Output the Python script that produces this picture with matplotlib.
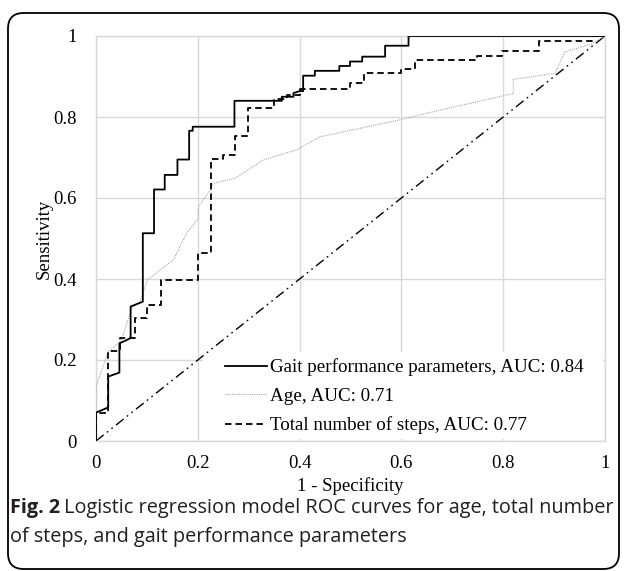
import matplotlib
matplotlib.use("Agg")
import matplotlib.pyplot as plt
from matplotlib.patches import FancyBboxPatch, Rectangle

# ---- data ----
gait_x = [0, 0, 0.024, 0.024, 0.046, 0.046, 0.068, 0.068, 0.092, 0.092, 0.114, 0.114,
          0.135, 0.135, 0.160, 0.160, 0.183, 0.183, 0.190, 0.190, 0.272, 0.272, 0.365,
          0.365, 0.388, 0.388, 0.400, 0.407, 0.407, 0.430, 0.430, 0.478, 0.478, 0.499,
          0.499, 0.523, 0.523, 0.568, 0.568, 0.614, 0.614, 1.0]
gait_y = [0, 0.070, 0.083, 0.159, 0.169, 0.241, 0.254, 0.332, 0.344, 0.513, 0.513, 0.621,
          0.621, 0.657, 0.657, 0.695, 0.695, 0.766, 0.766, 0.776, 0.776, 0.840, 0.840,
          0.850, 0.850, 0.859, 0.864, 0.864, 0.902, 0.902, 0.914, 0.914, 0.926, 0.926,
          0.937, 0.937, 0.949, 0.949, 0.976, 0.976, 1.0, 1.0]

age_x = [0, 0, 0.024, 0.050, 0.070, 0.086, 0.101, 0.152, 0.178, 0.201, 0.201, 0.225,
         0.230, 0.274, 0.329, 0.394, 0.440, 0.597, 0.676, 0.820, 0.820, 0.902, 0.921,
         0.974, 1.0]
age_y = [0, 0.134, 0.220, 0.249, 0.328, 0.344, 0.398, 0.447, 0.513, 0.550, 0.578, 0.620,
         0.636, 0.649, 0.694, 0.719, 0.751, 0.793, 0.817, 0.858, 0.893, 0.908, 0.961,
         0.980, 1.0]

steps_x = [0, 0, 0.024, 0.024, 0.048, 0.048, 0.077, 0.077, 0.101, 0.101, 0.127, 0.127,
           0.201, 0.201, 0.225, 0.225, 0.250, 0.250, 0.274, 0.274, 0.299, 0.299, 0.350,
           0.350, 0.375, 0.375, 0.400, 0.400, 0.499, 0.499, 0.527, 0.527, 0.600, 0.600,
           0.627, 0.627, 0.748, 0.748, 0.798, 0.798, 0.871, 0.871, 0.974, 0.974, 1.0]
steps_y = [0, 0.068, 0.068, 0.221, 0.221, 0.254, 0.254, 0.303, 0.303, 0.336, 0.336, 0.398,
           0.398, 0.465, 0.465, 0.696, 0.696, 0.706, 0.706, 0.753, 0.753, 0.823, 0.823,
           0.845, 0.845, 0.855, 0.855, 0.869, 0.869, 0.883, 0.883, 0.908, 0.908, 0.918,
           0.918, 0.941, 0.941, 0.951, 0.951, 0.964, 0.964, 0.988, 0.988, 1.0, 1.0]

ref_x = [0, 1]
ref_y = [0, 1]

labels = ["Gait performance parameters, AUC: 0.84",
          "Age, AUC: 0.71",
          "Total number of steps, AUC: 0.77"]
ticks = [0, 0.2, 0.4, 0.6, 0.8, 1.0]
tick_labels = ["0", "0.2", "0.4", "0.6", "0.8", "1"]
caption_bold = "Fig. 2"
caption_line1 = "Logistic regression model ROC curves for age, total number"
caption_line2 = "of steps, and gait performance parameters"

W, H = 627, 571
fig = plt.figure(figsize=(W / 100, H / 100), dpi=100)
fig.patch.set_facecolor("white")

# rounded frame
frame = FancyBboxPatch((8 / W, 1 - 569 / H), (619 - 8) / W, (569 - 13) / H,
                       boxstyle="round,pad=0,rounding_size=0.025",
                       transform=fig.transFigure, facecolor="none",
                       edgecolor="black", linewidth=1.3, mutation_aspect=W / H)
fig.patches.append(frame)

ax = fig.add_axes([96 / W, 1 - 441 / H, (605 - 96) / W, (441 - 36) / H])
serif = "Liberation Serif"
grid_c = "#d9d9d9"

ax.plot(ref_x, ref_y, color="black", lw=1.0, dashes=[7, 3, 1.2, 3, 1.2, 3], zorder=2)
l1, = ax.plot(gait_x, gait_y, color="black", lw=1.3, zorder=4)
l2, = ax.plot(age_x, age_y, color="#a8a8a8", lw=0.8, linestyle=(0, (1, 1)), zorder=3)
l3, = ax.plot(steps_x, steps_y, color="black", lw=1.3, dashes=[3.6, 2.2], zorder=3)

ax.set_xlim(0, 1)
ax.set_ylim(0, 1)
ax.set_xticks(ticks)
ax.set_yticks(ticks)
ax.set_xticklabels(tick_labels, fontfamily=serif, fontsize=13.5)
ax.set_yticklabels(tick_labels, fontfamily=serif, fontsize=13.5)
ax.tick_params(length=0, pad=10)
ax.tick_params(axis="y", pad=14)
ax.grid(True, color=grid_c, lw=1.0)
ax.set_axisbelow(True)
for s in ax.spines.values():
    s.set_color(grid_c)
    s.set_linewidth(1.0)

ax.set_xlabel("1 - Specificity", fontfamily=serif, fontsize=13.5, labelpad=4)
ax.set_ylabel("Sensitivity", fontfamily=serif, fontsize=13.5, labelpad=0)

# white legend area (covers the grid)
ax.add_patch(Rectangle(((203 - 96) / 509, 0.004), (603 - 203) / 509, (441 - 352) / 405 - 0.004,
                       transform=ax.transAxes, facecolor="white", edgecolor="none",
                       zorder=1.5))
leg = ax.legend([l1, l2, l3], labels, loc="upper left",
                bbox_to_anchor=((225 - 96) / 509, (441 - 358.5) / 405),
                frameon=False, borderpad=0,
                handlelength=2.2, handletextpad=0.15, labelspacing=0.6,
                prop={"family": serif, "size": 13.7}, borderaxespad=0)
leg.set_zorder(5)

# caption
cap_kw = dict(fontfamily="Open Sans", fontsize=14.3, va="center", ha="left",
              color="#231f20")
t0 = fig.text(10 / W, 1 - 508 / H, caption_bold, fontweight="bold", **cap_kw)
fig.canvas.draw()
bb = t0.get_window_extent(renderer=fig.canvas.get_renderer())
fig.text((bb.x1 + 4) / W, 1 - 508 / H, caption_line1, **cap_kw)
fig.text(10 / W, 1 - 537 / H, caption_line2, **cap_kw)

fig.savefig("out.png", dpi=100)
